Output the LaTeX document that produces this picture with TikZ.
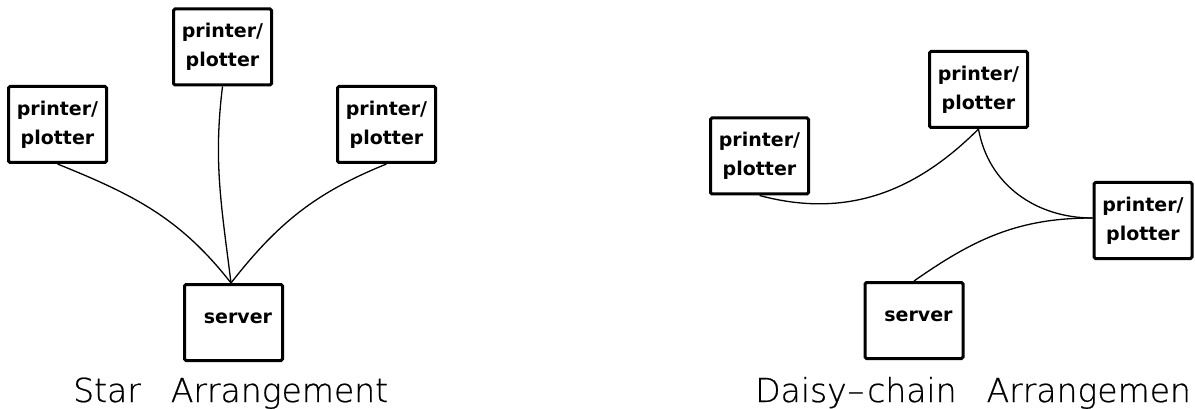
\documentclass[tikz,border=0pt]{standalone}
\usepackage{fontspec}
\setmainfont{DejaVu Sans}
\newfontfamily\thinfont[RawFeature={embolden=0.6}]{DejaVu Sans ExtraLight}
\usetikzlibrary{positioning}

\begin{document}
\begin{tikzpicture}[
x=1pt,y=-1pt,
dev/.style={
  draw,
  line width=3pt,
  rounded corners=1.5pt,
  minimum width=98pt,
  minimum height=76pt,
  inner sep=0pt,
  align=center,
  font=\fontsize{19}{29}\selectfont\bfseries
  },
wire/.style={
  line width=1.3pt
  },
caption/.style={
  anchor=base west,
  inner sep=0pt,
  font=\fontsize{33}{40}\selectfont\thinfont
  }
]
\useasboundingbox (0,0) rectangle (1195,409);

% star
\node[dev] (s1) at (57.5,124.5) {printer/\\plotter};
\node[dev] (s2) at (222.5,47) {printer/\\plotter};
\node[dev] (s3) at (386.5,124.5) {printer/\\plotter};
\node[dev] (srv1) at (233.5,322.5) {\raisebox{-1pt}[0pt][0pt]{\hspace*{9pt}server}};
\coordinate (hub) at ([xshift=-2.5pt]srv1.north);

\foreach \dev/\o/\i in {s1/-22/128, s2/-97/97, s3/-158/52}
  \draw[wire] (\dev.south) to[out=\o,in=\i] (hub);

\node[caption] (cap1) at (73,402) {Star\hspace{30pt}Arrangement};

% daisy chain
\node[dev] (d1) at (759.5,156) {printer/\\plotter};
\node[dev] (d2) at (978.5,89.5) {printer/\\plotter};
\node[dev] (d3) at (1143,220.5) {printer/\\plotter};
\node[dev] (srv2) at (914,320.5) {\raisebox{-1pt}[0pt][0pt]{\hspace*{9pt}server}};

\draw[wire] (d1.south) to[out=-15,in=-135] (d2.south);
\draw[wire] (d2.south) to[out=-80,in=180] ([yshift=2.5pt]d3.west);
\draw[wire] (srv2.north) to[out=35,in=180] ([yshift=2.5pt]d3.west);

\node[caption] (cap2) at (755,402) {Daisy\hspace{1pt}\textendash\hspace{3pt}chain\hspace{30pt}Arrangemen};

\end{tikzpicture}
\end{document}
